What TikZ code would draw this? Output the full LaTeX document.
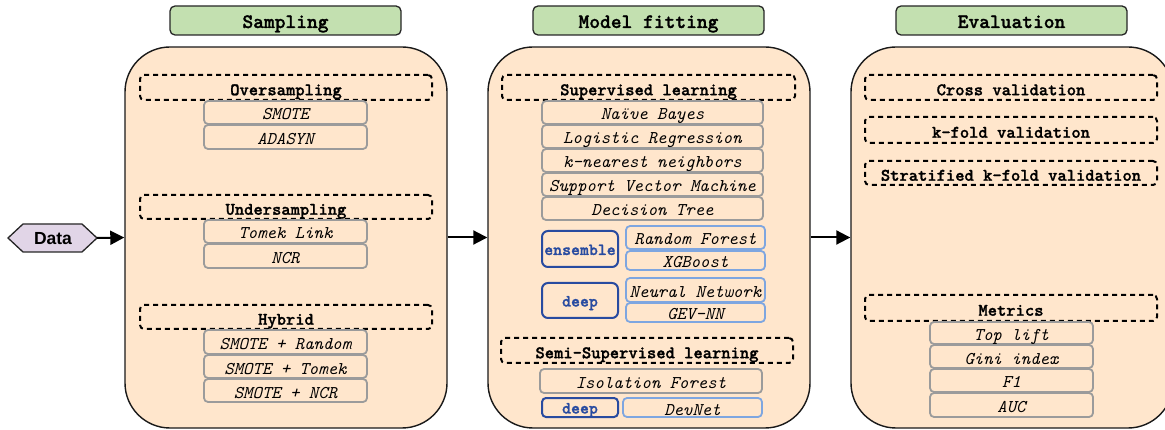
\documentclass[tikz,border=0pt]{standalone}
\usepackage{fontspec}
\newfontfamily\datafont{Liberation Sans}
\newfontfamily\ttbf{lmmonolt10-bold.otf}[FakeBold=1.3]
\usetikzlibrary{arrows.meta}
\definecolor{hdrgreen}{RGB}{195,224,176}
\definecolor{peach}{RGB}{255,230,204}
\definecolor{itemgray}{RGB}{155,155,155}
\definecolor{dblue}{RGB}{40,75,160}
\definecolor{lblue}{RGB}{126,166,224}
\definecolor{lav}{RGB}{225,213,231}
\newcommand\bx[7]{\node[#6, minimum width={#4-#2}, minimum height={#5-#3}] (#1) at ({(#2+#4)/2},{(#3+#5)/2}) {#7};}
\tikzset{
  hdr/.style={draw=black!85, line width=1.3pt, fill=hdrgreen, rounded corners=5pt, inner sep=0pt,
    font=\ttbf\fontsize{20.5}{22}\selectfont, text height=15pt, text depth=0pt},
  outer/.style={draw=black!90, line width=1.4pt, fill=peach, rounded corners=45pt, inner sep=0pt},
  grp/.style={draw=black, line width=2pt, dash pattern=on 5pt off 4pt, rounded corners=4pt, inner sep=0pt,
    font=\ttbf\fontsize{17.7}{20}\selectfont, text height=15.5pt, text depth=0pt},
  item/.style={draw=itemgray, line width=1.8pt, rounded corners=4pt, inner sep=0pt,
    font=\ttfamily\itshape\fontsize{17.9}{20}\selectfont, text height=15pt, text depth=0pt},
  bitem/.style={item, draw=lblue},
  tag/.style={draw=dblue, line width=2pt, rounded corners=6pt, inner sep=0pt, text=dblue,
    font=\ttbf\fontsize{17}{20}\selectfont, text height=12pt, text depth=0pt},
  flow/.style={line width=2pt, -{Triangle[length=14pt,width=14pt]}},
}
\begin{document}
\begin{tikzpicture}[x=1pt,y=-1pt]
\useasboundingbox (0,0) rectangle (1165,430);
% Data
\draw[draw=black!85, line width=1.3pt, fill=lav] (8,238)--(23,224)--(82,224)--(97,238)--(82,252)--(23,252)--cycle;
\node[font=\datafont\bfseries\fontsize{17.5}{18}\selectfont, inner sep=0pt, text height=12.6pt, text depth=0pt] (data) at (53,238) {Data};
\coordinate (dataR) at (97,238);
% Sampling
\bx{head1}{170}{6}{401}{35}{hdr}{Sampling}
\bx{samp}{125}{47}{447}{428}{outer}{}
\bx{over}{140}{75}{432}{100}{grp}{Oversampling}
\bx{smote}{204}{101}{367}{124}{item}{SMOTE}
\bx{adasyn}{204}{125}{367}{149}{item}{ADASYN}
\bx{under}{140}{195}{432}{219}{grp}{Undersampling}
\bx{tomek}{204}{220}{367}{243}{item}{Tomek Link}
\bx{ncr}{204}{244}{367}{268}{item}{NCR}
\bx{hybrid}{140}{305}{432}{329}{grp}{Hybrid}
\bx{sr}{204}{330}{367}{354}{item}{SMOTE + Random}
\bx{st}{204}{355}{367}{378}{item}{SMOTE + Tomek}
\bx{sn}{204}{379}{367}{402}{item}{SMOTE + NCR}
% Model fitting
\bx{head2}{533}{6}{764}{35}{hdr}{Model fitting}
\bx{model}{488}{47}{810}{428}{outer}{}
\bx{sup}{502}{75}{795}{100}{grp}{Supervised learning}
\bx{nb}{542}{101}{763}{124}{item}{Naïve Bayes}
\bx{lr}{542}{125}{763}{148}{item}{Logistic Regression}
\bx{knn}{542}{149}{763}{172}{item}{k-nearest neighbors}
\bx{svm}{542}{173}{763}{196}{item}{Support Vector Machine}
\bx{dt}{542}{197}{763}{220}{item}{Decision Tree}
\bx{ens}{542}{231}{618}{267}{tag}{ensemble}
\bx{rf}{626}{226}{765}{249}{bitem}{Random Forest}
\bx{xgb}{626}{251}{765}{270}{bitem}{XGBoost}
\bx{deepa}{542}{283}{618}{318}{tag}{deep}
\bx{nn}{626}{278}{765}{302}{bitem}{Neural Network}
\bx{gev}{626}{303}{765}{322}{bitem}{GEV-NN}
\bx{semi}{501}{338}{793}{363}{grp}{Semi-Supervised learning}
\bx{iso}{540}{369}{762}{393}{item}{Isolation Forest}
\bx{deepb}{542}{398}{618}{417}{tag, rounded corners=4pt}{deep}
\bx{devnet}{623}{398}{762}{417}{bitem}{DevNet}
% Evaluation
\bx{head3}{896}{6}{1127}{35}{hdr}{Evaluation}
\bx{eval}{851}{47}{1173}{428}{outer}{}
\bx{cv}{865}{75}{1157}{100}{grp}{Cross validation}
\bx{kf}{865}{117}{1157}{143}{grp}{k-fold validation}
\bx{skf}{865}{161}{1157}{185}{grp}{Stratified k-fold validation}
\bx{metrics}{865}{295}{1157}{321}{grp}{Metrics}
\bx{top}{930}{322}{1093}{344}{item}{Top lift}
\bx{gini}{930}{345}{1093}{368}{item}{Gini index}
\bx{f1}{930}{369}{1093}{392}{item}{F1}
\bx{auc}{930}{393}{1093}{417}{item}{AUC}
% arrows
\draw[flow] (dataR) -- (samp.west);
\draw[flow] (samp.east) -- (model.west);
\draw[flow] (model.east) -- (eval.west);
\end{tikzpicture}
\end{document}
